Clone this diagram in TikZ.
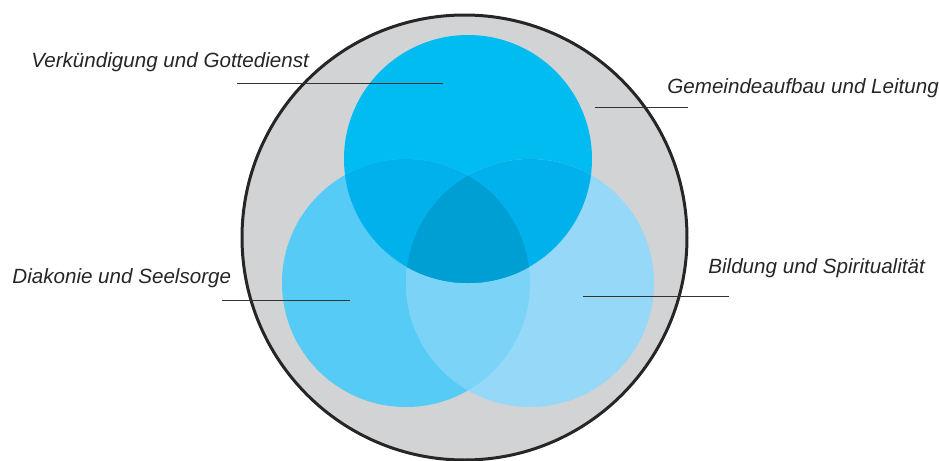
\documentclass[tikz,border=0pt]{standalone}
\usepackage{fontspec}
\setmainfont{Liberation Sans}
\usepackage{tikz}

\definecolor{ringgray}{HTML}{D1D3D4}
\definecolor{vkblue}{HTML}{00BCF1}
\definecolor{dkblue}{HTML}{55CBF5}
\definecolor{bsblue}{HTML}{96D8F8}
\definecolor{twoblue}{HTML}{00B1EC}
\definecolor{lowblue}{HTML}{7BD3F7}
\definecolor{midblue}{HTML}{009FD3}

\begin{document}
\begin{tikzpicture}[x=0.5pt,y=-0.5pt,
  lbl/.style={font=\itshape\fontsize{10.3}{12}\selectfont,text=black!85,inner sep=0pt,anchor=base west},
  lead/.style={black!80,line width=0.5pt}]
\useasboundingbox (0,0) rectangle (939,461);
% centres of the outer ring and the three fields
\coordinate (outer) at (464.5,237.5);
\coordinate (vk) at (468,159);
\coordinate (dk) at (406,283);
\coordinate (bs) at (530,283);

\fill[ringgray] (outer) circle (111.25pt);
\fill[vkblue] (vk) circle (62pt);
\fill[dkblue] (dk) circle (62pt);
\fill[bsblue] (bs) circle (62pt);

% overlaps
\begin{scope}
\clip (dk) circle (62pt);
\fill[lowblue] (bs) circle (62pt);
\end{scope}
\begin{scope}
\clip (vk) circle (62pt);
\fill[twoblue] (dk) circle (62pt);
\fill[twoblue] (bs) circle (62pt);
\clip (dk) circle (62pt);
\fill[midblue] (bs) circle (62pt);
\end{scope}

\draw[black!85,line width=1.5pt] (outer) circle (111.25pt);

% labels with their leader lines
\node[lbl] (vktext) at (31,67) {Verkündigung und Gottedienst};
\node[lbl] (gltext) at (667,93) {Gemeindeaufbau und Leitung};
\node[lbl] (dktext) at (12,283) {Diakonie und Seelsorge};
\node[lbl] (bstext) at (708,273) {Bildung und Spiritualität};

\coordinate (vka) at (237,83);  \coordinate (vkb) at (443,83);
\coordinate (gla) at (595,107); \coordinate (glb) at (688,107);
\coordinate (dka) at (222,300); \coordinate (dkb) at (350,300);
\coordinate (bsa) at (583,296); \coordinate (bsb) at (729,296);
\foreach \a/\b in {vka/vkb,gla/glb,dka/dkb,bsa/bsb}
  \draw[lead] (\a) -- (\b);
\end{tikzpicture}
\end{document}
